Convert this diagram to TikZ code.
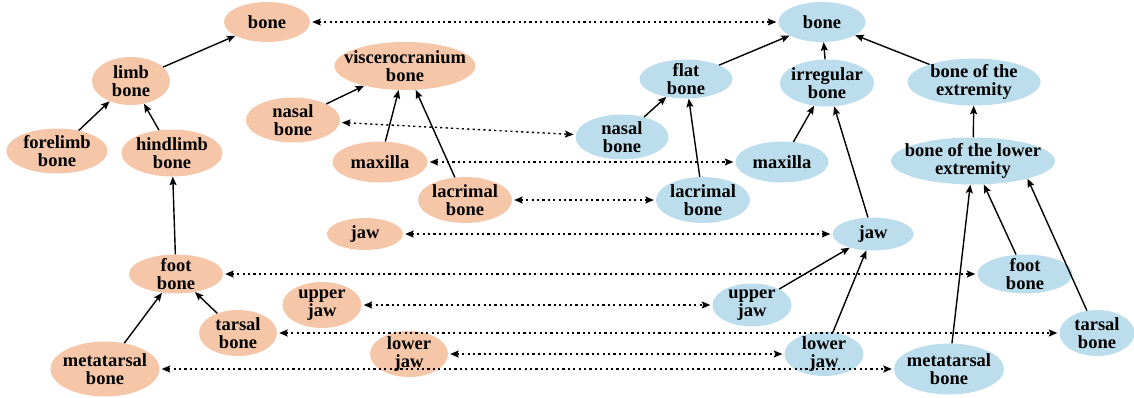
\documentclass[tikz,border=0pt]{standalone}
\usepackage{fontspec}
\setmainfont{Liberation Serif}
\usetikzlibrary{arrows.meta,shapes.geometric}
\definecolor{orF}{RGB}{246,198,168}
\definecolor{blF}{RGB}{187,221,236}
\begin{document}
\begin{tikzpicture}[x=1pt,y=-1pt,
 bn/.style={ellipse, inner xsep=-80pt, inner ysep=-40pt, align=center,
   font=\fontsize{18.5}{18.5}\selectfont\bfseries},
 on/.style={bn, fill=orF},
 bl/.style={bn, fill=blF},
 sz/.style 2 args={minimum width=#1pt, minimum height=#2pt},
 isa/.style={-{Stealth[length=8.5pt,width=7pt,inset=1.5pt]}, line width=1.4pt},
 eq/.style={{Stealth[length=8.5pt,width=7pt,inset=1.5pt]}-{Stealth[length=8.5pt,width=7pt,inset=1.5pt]},
   line width=1.4pt, dash pattern=on 2.2pt off 3.2pt, shorten <=2pt, shorten >=2pt}]
\useasboundingbox (0,0) rectangle (1134,397);
% orange (left) hierarchy
\node[on,sz={86}{40}] (boneO) at (267,22) {bone};
\node[on,sz={78}{48}] (limb) at (131,81) {limb\\bone};
\node[on,sz={101}{45}] (fore) at (57,151) {forelimb\\bone};
\node[on,sz={101}{47}] (hind) at (172,153) {hindlimb\\bone};
\node[on,sz={94}{45}] (nasO) at (293,120) {nasal\\bone};
\node[on,sz={141}{48}] (visc) at (405,66) {viscerocranium\\bone};
\node[on,sz={95}{41}] (maxO) at (380,162) {maxilla};
\node[on,sz={94}{46}] (lacO) at (465,200) {lacrimal\\bone};
\node[on,sz={76}{32}] (jawO) at (365,234) {jaw};
\node[on,sz={94}{39}] (footO) at (176,274) {foot\\bone};
\node[on,sz={79}{46}] (upO) at (322,305) {upper\\jaw};
\node[on,sz={78}{46}] (tarO) at (238,333) {tarsal\\bone};
\node[on,sz={109}{55}] (metO) at (105,369) {metatarsal\\bone};
\node[on,sz={78}{46}] (lowO) at (409,354) {lower\\jaw};
% blue (right) hierarchy
\node[bl,sz={87}{40}] (boneB) at (822,22) {bone};
\node[bl,sz={93}{39}] (flat) at (686,79) {flat\\bone};
\node[bl,sz={94}{47}] (irr) at (827,83) {irregular\\bone};
\node[bl,sz={133}{47}] (ext) at (974,82) {bone of the\\extremity};
\node[bl,sz={93}{45}] (nasB) at (622,137) {nasal\\bone};
\node[bl,sz={93}{41}] (maxB) at (782,162) {maxilla};
\node[bl,sz={164}{47}] (lext) at (973,161) {bone of the lower\\extremity};
\node[bl,sz={94}{46}] (lacB) at (703,200) {lacrimal\\bone};
\node[bl,sz={81}{33}] (jawB) at (873,234) {jaw};
\node[bl,sz={95}{39}] (footB) at (1025,274) {foot\\bone};
\node[bl,sz={79}{43}] (upB) at (752,305) {upper\\jaw};
\node[bl,sz={79}{44}] (lowB) at (824,354) {lower\\jaw};
\node[bl,sz={110}{51}] (metB) at (949,369) {metatarsal\\bone};
\node[bl,sz={75}{46}] (tarB) at (1097,333) {tarsal\\bone};
% is-a edges (orange)
\draw[isa] (limb) -- (boneO);
\draw[isa] (fore) -- (limb);
\draw[isa] (hind) -- (limb);
\draw[isa] (footO) -- (hind);
\draw[isa] (metO) -- (footO);
\draw[isa] (tarO) -- (footO);
\draw[isa] (nasO) -- (visc);
\draw[isa] (maxO) -- (visc);
\draw[isa] (lacO) -- (visc);
% is-a edges (blue)
\draw[isa] (flat) -- (boneB);
\draw[isa] (irr) -- (boneB);
\draw[isa] (ext) -- (boneB);
\draw[isa] (nasB) -- (flat);
\draw[isa] (lacB) -- (flat);
\draw[isa] (maxB) -- (irr);
\draw[isa] (jawB) -- (irr);
\draw[isa] (lext) -- (ext);
\draw[isa] (footB) -- (lext);
\draw[isa] (tarB) -- (lext.-18);
\draw[isa] (metB) -- (lext);
\draw[isa] (upB) -- (jawB);
\draw[isa] (lowB) -- (jawB);
% correspondences
\draw[eq] (boneO) -- (boneB);
\draw[eq] (nasO) -- (nasB);
\draw[eq] (maxO) -- (maxB);
\draw[eq] (lacO) -- (lacB);
\draw[eq] (jawO) -- (jawB);
\draw[eq] (footO) -- (footB);
\draw[eq] (upO) -- (upB);
\draw[eq] (tarO) -- (tarB);
\draw[eq] (lowO) -- (lowB);
\draw[eq] (metO) -- (metB);
\end{tikzpicture}
\end{document}
